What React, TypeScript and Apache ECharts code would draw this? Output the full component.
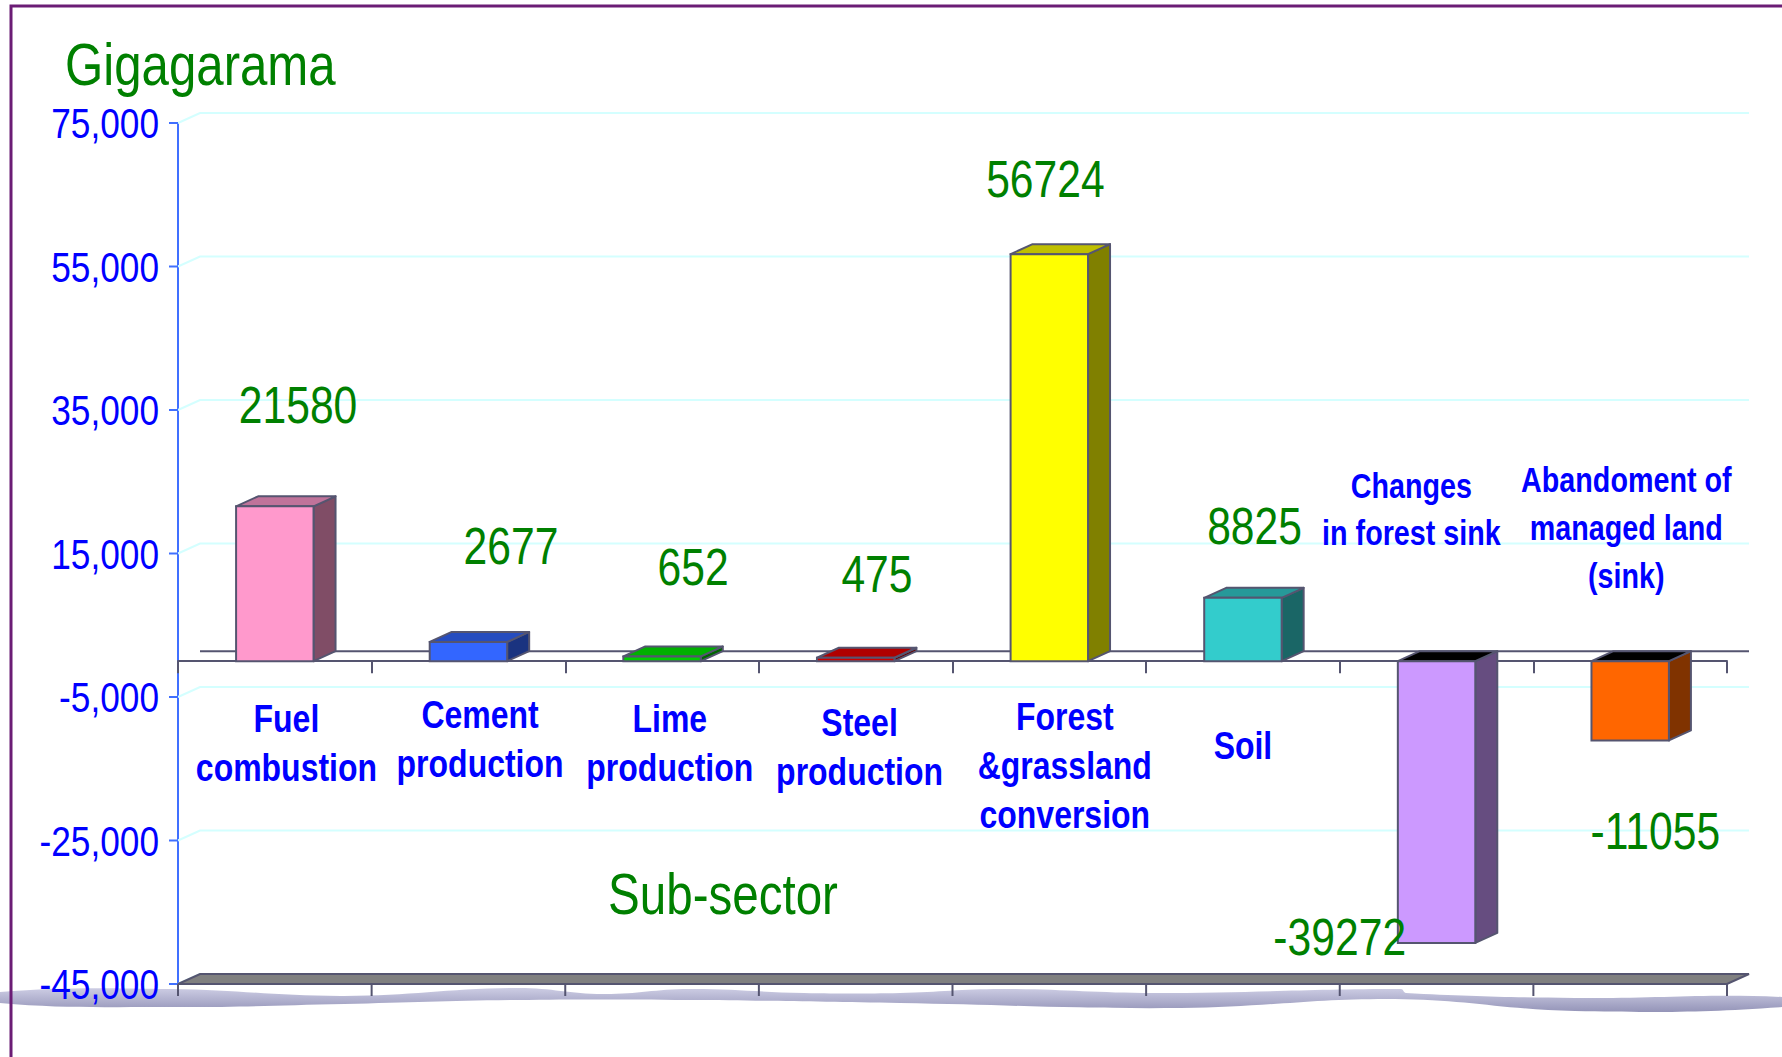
import React, { useEffect, useRef } from "react";
import * as echarts from "echarts";

// ---- data ----
const categories = [
  "Fuel\ncombustion",
  "Cement\nproduction",
  "Lime\nproduction",
  "Steel\nproduction",
  "Forest\n&grassland\nconversion",
  "Soil",
  "Changes\nin forest sink",
  "Abandoment of\nmanaged land\n(sink)",
];
const values = [21580, 2677, 652, 475, 56724, 8825, -39272, -11055];
const yTicks = [-45000, -25000, -5000, 15000, 35000, 55000, 75000];
const yMin = -45000;
const yMax = 75000;

// label anchors (value-axis units) and shifts (fraction of a category band)
const valueLabelAnchor = [35700, 16100, 13100, 12100, 67200, 18900, -38400, -23700];
const valueLabelShift = [0.12, 0.22, 0.16, 0.11, -0.02, 0.06, -0.5, 0.13];
const nameLabelAnchor = [-11500, -10900, -11500, -12000, -14600, -11800, 21100, 18600];
const nameLabelShift = [0.06, 0.06, 0.04, 0.02, 0.08, 0.0, -0.13, -0.02];
const nameLabelSize = [39, 39, 39, 39, 39, 39, 35, 35];
const nameLabelLineHeight = [49, 49, 49, 49, 49, 49, 47, 48];

// ---- styles ----
const barFront = ["#FF99CC", "#3366FF", "#00CC00", "#CC0000", "#FFFF00", "#33CCCC", "#CC99FF", "#FF6600"];
const barSide = ["#804D66", "#1A3380", "#006600", "#660000", "#808000", "#1A6666", "#664D80", "#803300"];
const barTop = ["#C0739A", "#264CBF", "#00B000", "#B00000", "#BFBF00", "#269999", "#000000", "#000000"];
const FONT = "'Liberation Sans', Arial, sans-serif";
const NARROW_SCALE = 0.82;
const DX = 22;
const DY = -10;
const EDGE = "#555570";

export default function App() {
  const ref = useRef<HTMLDivElement>(null);

  useEffect(() => {
    if (!ref.current) return;
    const chart = echarts.init(ref.current, undefined, { renderer: "svg" });

    const bandInfo = (api: any) => {
      const bw = api.size([1, 0])[0];
      const first = api.coord([0, 0])[0];
      const last = api.coord([values.length - 1, 0])[0];
      return { bw, left: first - bw / 2, right: last + bw / 2 };
    };

    const narrowText = (x: number, y: number, style: any) => ({
      type: "text",
      x,
      y,
      scaleX: NARROW_SCALE,
      style: { x: 0, y: 0, fontFamily: FONT, ...style },
    });

    const option: any = {
      animation: false,
      backgroundColor: "#ffffff",
      grid: { left: 178, right: 55, top: 123, bottom: 73 },
      xAxis: {
        type: "category",
        data: categories,
        boundaryGap: true,
        axisLine: { onZero: true, lineStyle: { color: EDGE, width: 2 } },
        axisTick: { show: true, length: 12, lineStyle: { color: EDGE, width: 2 } },
        axisLabel: { show: false },
        splitLine: { show: false },
        z: 2,
      },
      yAxis: {
        type: "value",
        min: yMin,
        max: yMax,
        axisLine: { show: true, lineStyle: { color: "#4070FF", width: 2 } },
        axisTick: { show: false },
        axisLabel: { show: false },
        splitLine: { show: false },
      },
      graphic: [
        {
          type: "polygon",
          z: -10,
          silent: true,
          shape: {
            smooth: 0.4,
            points: [
              [0, 992], [172, 989], [344, 996], [517, 988], [603, 994], [689, 989],
              [804, 993], [900, 993], [1001, 989], [1153, 993], [1401, 989], [1406, 993],
              [1575, 998], [1782, 997], [1782, 1007], [1575, 1011], [1395, 999],
              [1181, 1008], [900, 1003], [689, 1000], [517, 1000], [344, 1004],
              [172, 1007], [0, 1003],
            ],
          },
          style: {
            fill: new echarts.graphic.LinearGradient(0, 0, 0, 1, [
              { offset: 0, color: "#CDCDE4" },
              { offset: 1, color: "#9494B8" },
            ]),
          },
        },
        {
          type: "polyline",
          z: 50,
          silent: true,
          shape: { points: [[11, 1057], [11, 6], [1782, 6]] },
          style: { stroke: "#6B1C75", lineWidth: 3, fill: null },
        },
        {
          type: "text",
          x: 65,
          y: 34,
          scaleX: NARROW_SCALE,
          silent: true,
          style: {
            text: "Gigagarama",
            x: 0,
            y: 0,
            fill: "#008000",
            fontSize: 60,
            fontFamily: FONT,
            align: "left",
            verticalAlign: "top",
          },
        },
        {
          type: "text",
          x: 723,
          y: 894,
          scaleX: NARROW_SCALE,
          silent: true,
          style: {
            text: "Sub-sector",
            x: 0,
            y: 0,
            fill: "#008000",
            fontSize: 58,
            fontFamily: FONT,
            align: "center",
            verticalAlign: "middle",
          },
        },
      ],
      series: [
        {
          type: "custom",
          name: "backdrop",
          z: 1,
          silent: true,
          clip: false,
          data: yTicks.map((t, i) => [i, t]),
          renderItem: (params: any, api: any) => {
            const v = api.value(1);
            const { left, right, bw } = bandInfo(api);
            const y = api.coord([0, v])[1];
            const children: any[] = [
              {
                type: "polyline",
                shape: { points: [[left, y], [left + DX, y + DY], [right + DX, y + DY]] },
                style: { stroke: "#D4FFFF", lineWidth: 2, fill: null },
              },
              {
                type: "line",
                shape: { x1: left - 9, y1: y, x2: left, y2: y },
                style: { stroke: "#4070FF", lineWidth: 2 },
              },
              narrowText(left - 19, y, {
                text: v.toLocaleString("en-US"),
                fill: "#0000FF",
                fontSize: 43,
                align: "right",
                verticalAlign: "middle",
              }),
            ];
            if (v === yMin) {
              children.push({
                type: "polygon",
                shape: {
                  points: [[left, y], [left + DX, y + DY], [right + DX, y + DY], [right, y]],
                },
                style: { fill: "#808080", stroke: EDGE, lineWidth: 2 },
              });
              for (let k = 0; k <= values.length; k++) {
                const x = left + k * bw;
                children.push({
                  type: "line",
                  shape: { x1: x, y1: y, x2: x, y2: y + 12 },
                  style: { stroke: EDGE, lineWidth: 2 },
                });
              }
              const y0 = api.coord([0, 0])[1];
              children.push({
                type: "line",
                shape: { x1: left + DX, y1: y0 + DY, x2: right + DX, y2: y0 + DY },
                style: { stroke: EDGE, lineWidth: 2 },
              });
            }
            return { type: "group", children };
          },
        },
        {
          type: "custom",
          name: "bars",
          z: 3,
          silent: true,
          clip: false,
          data: values.map((v, i) => [i, v]),
          renderItem: (params: any, api: any) => {
            const i = api.value(0);
            const v = api.value(1);
            const base = api.coord([i, 0]);
            const tip = api.coord([i, v]);
            const w = api.size([1, 0])[0] * 0.4;
            const x1 = base[0] - w / 2;
            const x2 = base[0] + w / 2;
            const yHigh = Math.min(base[1], tip[1]);
            const yLow = Math.max(base[1], tip[1]);
            return {
              type: "group",
              children: [
                {
                  type: "polygon",
                  shape: {
                    points: [[x2, yHigh], [x2 + DX, yHigh + DY], [x2 + DX, yLow + DY], [x2, yLow]],
                  },
                  style: { fill: barSide[i], stroke: EDGE, lineWidth: 2, lineJoin: "round" },
                },
                {
                  type: "polygon",
                  shape: {
                    points: [[x1, yHigh], [x1 + DX, yHigh + DY], [x2 + DX, yHigh + DY], [x2, yHigh]],
                  },
                  style: { fill: barTop[i], stroke: EDGE, lineWidth: 2, lineJoin: "round" },
                },
                {
                  type: "rect",
                  shape: { x: x1, y: yHigh, width: w, height: yLow - yHigh },
                  style: { fill: barFront[i], stroke: EDGE, lineWidth: 2 },
                },
              ],
            };
          },
        },
        {
          type: "custom",
          name: "labels",
          z: 5,
          silent: true,
          clip: false,
          data: values.map((v, i) => [i, v]),
          renderItem: (params: any, api: any) => {
            const i = api.value(0);
            const v = api.value(1);
            const bw = api.size([1, 0])[0];
            const pv = api.coord([i, valueLabelAnchor[i]]);
            const pn = api.coord([i, nameLabelAnchor[i]]);
            return {
              type: "group",
              children: [
                narrowText(pv[0] + valueLabelShift[i] * bw, pv[1], {
                  text: String(v),
                  fill: "#008000",
                  fontSize: 52,
                  align: "center",
                  verticalAlign: "middle",
                }),
                narrowText(pn[0] + nameLabelShift[i] * bw, pn[1], {
                  text: categories[i],
                  fill: "#0000FF",
                  fontSize: nameLabelSize[i],
                  fontWeight: "bold",
                  lineHeight: nameLabelLineHeight[i],
                  align: "center",
                  verticalAlign: "middle",
                }),
              ],
            };
          },
        },
      ],
    };

    chart.setOption(option);
    return () => chart.dispose();
  }, []);

  return (
    <div
      ref={ref}
      style={{ position: "fixed", left: 0, top: 0, width: 1782, height: 1057, background: "#fff" }}
    />
  );
}
